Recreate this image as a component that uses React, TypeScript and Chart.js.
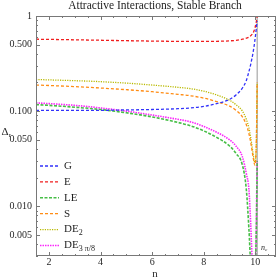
import React, { useEffect, useRef } from "react";
import { Chart, registerables } from "chart.js";
Chart.register(...registerables);

const nGrid = [1.5, 2, 3, 4, 5, 6, 7, 7.5, 8, 8.5, 9, 9.25, 9.5, 9.65, 9.75, 9.82, 9.87, 9.91, 9.95, 9.98, 10.01, 10.04, 10.06, 10.07];
const G = [0.102, 0.102, 0.102, 0.102, 0.103, 0.104, 0.106, 0.108, 0.112, 0.12, 0.133, 0.148, 0.175, 0.21, 0.26, 0.31, 0.36, 0.41, 0.48, 0.55, 0.64, 0.75, 0.84, 0.88];
const E = [0.57, 0.568, 0.562, 0.556, 0.55, 0.545, 0.541, 0.54, 0.54, 0.542, 0.548, 0.555, 0.57, 0.585, 0.6, 0.62, 0.64, 0.66, 0.7, 0.74, 0.8, 0.88, 0.95, 1.0];
const LE = [0.117, 0.115, 0.11, 0.104, 0.096, 0.087, 0.076, 0.07, 0.062, 0.053, 0.043, 0.036, 0.027, 0.015, 0.0058, 0.0025, 0.002, 0.0015, 0.0015, 0.002, 0.0028, 0.006, 0.015, 0.03];
const S = [0.188, 0.186, 0.181, 0.175, 0.168, 0.16, 0.15, 0.145, 0.137, 0.126, 0.113, 0.102, 0.087, 0.072, 0.058, 0.047, 0.039, 0.033, 0.029, 0.027, 0.03, 0.05, 0.12, 0.2];
const DE2 = [0.215, 0.213, 0.209, 0.204, 0.197, 0.188, 0.178, 0.172, 0.162, 0.148, 0.13, 0.117, 0.1, 0.082, 0.067, 0.053, 0.043, 0.036, 0.031, 0.029, 0.031, 0.05, 0.12, 0.2];
const DE3 = [0.122, 0.12, 0.115, 0.108, 0.1, 0.091, 0.082, 0.077, 0.069, 0.06, 0.05, 0.043, 0.033, 0.022, 0.015, 0.0065, 0.003, 0.002, 0.0018, 0.002, 0.003, 0.007, 0.02, 0.03];
const nC = 10.07;
const xTicks = [2, 4, 6, 8, 10];
const yTicks = [0.005, 0.01, 0.05, 0.1, 0.5, 1];
const yTickLabels = ["0.005", "0.010", "0.050", "0.100", "0.500", "1"];

const SERIES = [
  { label: "G", sub: "", data: G, color: "rgb(50,50,250)", dash: [3, 2], width: 1.3 },
  { label: "E", sub: "", data: E, color: "rgb(240,30,30)", dash: [3, 2], width: 1.3 },
  { label: "LE", sub: "", data: LE, color: "rgb(70,190,70)", dash: [3, 1.5], width: 1.6 },
  { label: "S", sub: "", data: S, color: "rgb(255,140,20)", dash: [3, 2], width: 1.3 },
  { label: "DE", sub: "2", data: DE2, color: "rgb(185,185,0)", dash: [1.2, 1.2], width: 1.3 },
  { label: "DE", sub: "3 \u03c0/8", data: DE3, color: "rgb(250,40,250)", dash: [1.5, 1], width: 1.6 },
];

const SERIF = "'Liberation Serif', 'DejaVu Serif', serif";

const decor = {
  id: "decor",
  beforeDatasetsDraw(chart: any) {
    const ctx = chart.ctx;
    const x = chart.scales.x;
    const a = chart.chartArea;
    const px = x.getPixelForValue(nC);
    ctx.save();
    ctx.strokeStyle = "rgb(150,150,150)";
    ctx.lineWidth = 1;
    ctx.beginPath();
    ctx.moveTo(px, a.top);
    ctx.lineTo(px, a.bottom);
    ctx.stroke();
    ctx.restore();
  },
  afterDraw(chart: any) {
    const ctx = chart.ctx;
    const xs = chart.scales.x;
    const ys = chart.scales.y;
    const a = chart.chartArea;
    ctx.save();
    ctx.strokeStyle = "rgb(120,120,120)";
    ctx.lineWidth = 1;
    ctx.strokeRect(Math.round(a.left) + 0.5, Math.round(a.top) + 0.5, Math.round(a.right - a.left) - 1, Math.round(a.bottom - a.top) - 1);
    const tick = (pos: number, len: number, vertical: boolean) => {
      ctx.beginPath();
      const p = Math.round(pos) + 0.5;
      if (vertical) {
        ctx.moveTo(p, a.bottom); ctx.lineTo(p, a.bottom - len);
        ctx.moveTo(p, a.top); ctx.lineTo(p, a.top + len);
      } else {
        ctx.moveTo(a.left, p); ctx.lineTo(a.left + len, p);
        ctx.moveTo(a.right, p); ctx.lineTo(a.right - len, p);
      }
      ctx.stroke();
    };
    for (let v = 2; v <= 10.8; v += 0.5) {
      const major = xTicks.includes(v);
      tick(xs.getPixelForValue(v), major ? 4 : 2, true);
    }
    for (let e = -3; e <= 0; e++) {
      for (let k = 1; k <= 9; k++) {
        const v = k * Math.pow(10, e);
        if (v < 0.003 || v > 1.0001) continue;
        const major = k === 1 || k === 5;
        tick(ys.getPixelForValue(v), major ? 4 : 2, false);
      }
    }
    ctx.fillStyle = "rgb(40,40,40)";
    ctx.font = "10px " + SERIF;
    ctx.textAlign = "center";
    ctx.textBaseline = "middle";
    xTicks.forEach((v) => ctx.fillText(String(v), xs.getPixelForValue(v), 262));
    ctx.textAlign = "right";
    yTicks.forEach((v, i) => ctx.fillText(yTickLabels[i], 32, ys.getPixelForValue(v)));
    ctx.textAlign = "center";
    ctx.font = "11px " + SERIF;
    ctx.fillText("n", 155, 274);
    ctx.fillText("\u0394", 5, 132);
    ctx.font = "7px " + SERIF;
    ctx.fillText("r", 10, 135);
    ctx.fillStyle = "rgb(30,30,30)";
    ctx.font = "11.5px " + SERIF;
    ctx.fillText("Attractive Interactions, Stable Branch", 155, 6);
    ctx.font = "italic 8px " + SERIF;
    ctx.textAlign = "left";
    ctx.fillText("n", 261, 248);
    ctx.font = "italic 5px " + SERIF;
    ctx.fillText("c", 265, 250);
    SERIES.forEach((s, i) => {
      const y = 166 + i * 15.9;
      ctx.strokeStyle = s.color;
      ctx.lineWidth = s.width;
      ctx.setLineDash(s.dash);
      ctx.beginPath();
      ctx.moveTo(40, y);
      ctx.lineTo(59, y);
      ctx.stroke();
      ctx.setLineDash([]);
      ctx.fillStyle = "rgb(30,30,30)";
      ctx.font = "11px " + SERIF;
      ctx.textAlign = "left";
      ctx.fillText(s.label, 64, y);
      if (s.sub) {
        const w = ctx.measureText(s.label).width;
        ctx.font = "8px " + SERIF;
        ctx.fillText(s.sub, 64 + w, y + 3);
      }
    });
    ctx.restore();
  },
};

export default function App() {
  const ref = useRef<HTMLCanvasElement>(null);
  useEffect(() => {
    const chart = new Chart(ref.current!, {
      type: "line",
      data: {
        datasets: SERIES.map((s) => ({
          label: s.label + s.sub,
          data: nGrid.map((n, i) => ({ x: n, y: s.data[i] })),
          borderColor: s.color,
          borderWidth: s.width,
          borderDash: s.dash,
          pointRadius: 0,
          fill: false,
          cubicInterpolationMode: "monotone" as const,
        })),
      },
      options: {
        animation: false,
        responsive: false,
        layout: { padding: { left: 36, top: 16, right: 1, bottom: 24 } },
        scales: {
          x: { type: "linear", min: 1.5, max: 10.8, display: false },
          y: { type: "logarithmic", min: 0.003, max: 1, display: false },
        },
        plugins: { legend: { display: false }, tooltip: { enabled: false }, title: { display: false } },
      },
      plugins: [decor],
    });
    return () => chart.destroy();
  }, []);
  return (
    <div style={{ position: "fixed", left: 0, top: 0, width: 277, height: 280, background: "#fff" }}>
      <canvas ref={ref} width={277} height={280} />
    </div>
  );
}
